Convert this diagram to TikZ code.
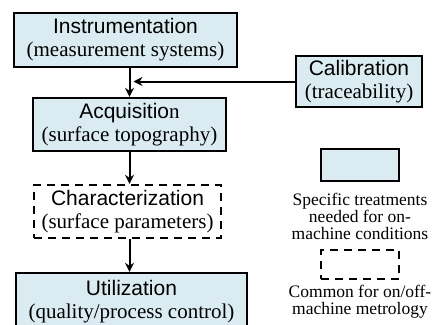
\documentclass[tikz,border=0pt]{standalone}
\usepackage{fontspec}
\setmainfont{Liberation Serif}
\setsansfont{Liberation Sans}
\usepackage{tikz}
\usetikzlibrary{arrows.meta,positioning,calc}
\definecolor{kastenblau}{RGB}{218,236,242}
\tikzset{
  stufe/.style={rectangle, draw=black, line width=2.4pt, fill=kastenblau, align=center, inner sep=2pt, font=\fontsize{21}{23}\selectfont},
  stufed/.style={stufe, fill=none, dash pattern=on 8pt off 6pt},
  legtext/.style={align=center, inner sep=0pt, font=\fontsize{17.5}{17}\selectfont},
  pfeil/.style={draw=black, line width=2pt, -{Stealth[length=9pt,width=9pt,inset=3pt]}}
}
\newcommand{\titel}[1]{{\sffamily #1}}

\begin{document}
\begin{tikzpicture}[x=1pt,y=-1pt]
\clip (0,0) rectangle (438,324);

\node[stufe, minimum width=223pt, minimum height=54pt] (instr) at (125.5,40) {\titel{Instrumentation}\\(measurement systems)};
\node[stufe, minimum width=193pt, minimum height=53pt] (acq) at (129.5,124.5) {\titel{Acquisitio}n\\(surface topography)};
\node[stufe, minimum width=126pt, minimum height=51pt] (calib) at (359,81.5) {\titel{Calibration}\\(traceability)};
\node[stufed, minimum width=187pt, minimum height=53pt] (charact) at (127.5,211.5) {\titel{Characterization}\\(surface parameters)};
\node[stufe, minimum width=231pt, minimum height=58pt] (util) at (131.5,302) {\titel{Utilization}\\(quality/process control)};

% legend
\node[stufe, minimum width=78pt, minimum height=32pt] (legsolid) at (360,165) {};
\node[legtext] (legsolidtxt) at (360,216.5) {Specific treatments\\needed for on-\\machine conditions};
\node[stufed, minimum width=78pt, minimum height=29pt] (legdash) at (360,264.5) {};
\node[legtext] (legdashtxt) at (360,301.5) {Common for on/off-\\machine metrology};

\draw[pfeil] (instr.south -| acq.north) -- (acq.north);
\coordinate (treff) at ($(acq.north |- calib.west)+(4,0)$);
\draw[pfeil] (calib.west) -- (treff);
\draw[pfeil] (acq.south) -- (acq.south |- charact.north);
\draw[pfeil] (charact.south -| acq.south) -- (acq.south |- util.north);

\end{tikzpicture}
\end{document}
